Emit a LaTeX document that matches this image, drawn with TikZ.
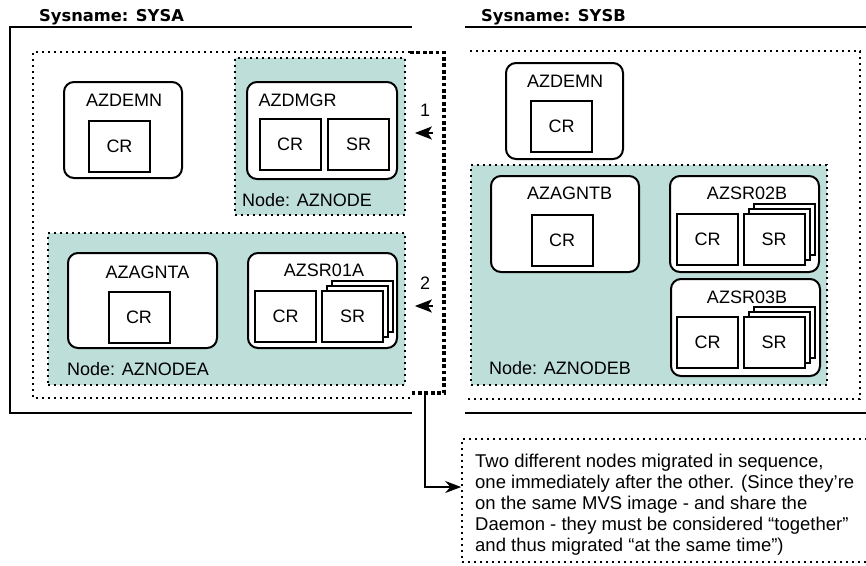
\documentclass[tikz,border=0pt]{standalone}
\usepackage{fontspec}
\setmainfont{Liberation Sans}
\newfontfamily\sysfont{DejaVu Sans}
\usetikzlibrary{positioning,arrows.meta}
\definecolor{zoneteal}{HTML}{BEDEDA}

\begin{document}
\begin{tikzpicture}[x=1pt,y=-1pt,
  every node/.style={font=\fontsize{18}{21}\selectfont},
  sysname/.style={inner sep=0pt,anchor=west,font=\sysfont\bfseries\fontsize{16.3}{19}\selectfont},
  frame/.style={line width=2pt},
  zone/.style={line width=1.7pt,dash pattern=on 1.7pt off 4.3pt},
  bracket/.style={line width=3.8pt,dash pattern=on 3.8pt off 2.6pt},
  nodezone/.style={zone,draw,fill=zoneteal,inner sep=0pt},
  region/.style={draw,line width=2pt,rounded corners=10pt,fill=white,inner sep=0pt},
  resbox/.style={draw,line width=2pt,fill=white,minimum width=61pt,minimum height=51pt,inner sep=0pt},
  mig/.style={line width=1.5pt,-{Stealth[length=17pt,width=13pt,inset=4pt]}}]
\useasboundingbox (0,0) rectangle (866,565);

% system frames
\node[sysname] (sysa) at (39,17) {Sysname: SYSA};
\node[sysname] (sysb) at (481,17) {Sysname: SYSB};
\draw[frame] (412,27) -- (10,27) -- (10,413) -- (412,413);
\draw[frame] (465,27) -- (866,27);
\draw[frame] (465,413) -- (866,413);
\draw[zone] (410,52) -- (33,52) -- (33,398) -- (410,398);
\draw[zone] (470,51) -- (860,51) -- (860,399) -- (467,399);

% nodes (teal)
\node[nodezone,minimum width=170pt,minimum height=157pt] (aznode) at (320,136.5) {};
\node[nodezone,minimum width=357pt,minimum height=152pt] (aznodea) at (226.5,309) {};
\node[nodezone,minimum width=356pt,minimum height=220pt] (aznodeb) at (649,275) {};
\node[anchor=west,inner sep=0pt] (aznodelbl) at (242,200) {Node: AZNODE};
\node[anchor=west,inner sep=0pt] (aznodealbl) at (67,369) {Node: AZNODEA};
\node[anchor=west,inner sep=0pt] (aznodeblbl) at (489,368) {Node: AZNODEB};

% SYSA regions
\node[region,minimum width=118pt,minimum height=96pt] (demna) at (123,130) {};
\node (demnalbl) at (124,100) {AZDEMN};
\node[resbox] (demnacr) at (119.5,146) {CR};

\node[region,minimum width=150pt,minimum height=97pt] (dmgr) at (322,130.5) {};
\node (dmgrlbl) at (297.5,100) {AZDMGR};
\node[resbox] (dmgrcr) at (290,144) {CR};
\node[resbox] (dmgrsr) at (358.5,144) {SR};

\node[region,minimum width=149pt,minimum height=95pt] (agnta) at (142.5,300.5) {};
\node (agntalbl) at (147.5,272) {AZAGNTA};
\node[resbox] (agntacr) at (139,317.5) {CR};

\node[region,minimum width=149pt,minimum height=95pt] (sr01a) at (322.5,300.5) {};
\node (sr01albl) at (324,270) {AZSR01A};
\node[resbox] (sr01acr) at (285.5,316.5) {CR};
\foreach \d in {10,5}
  \node[resbox] (sr01acopy\d) at (352.5+\d,316.5-\d) {};
\node[resbox] (sr01asr) at (352.5,316.5) {SR};

% SYSB regions
\node[region,minimum width=117pt,minimum height=96pt] (demnb) at (564.5,111) {};
\node (demnblbl) at (565,81) {AZDEMN};
\node[resbox] (demnbcr) at (561.5,126.5) {CR};

\node[region,minimum width=148pt,minimum height=96pt] (agntb) at (565,224) {};
\node (agntblbl) at (569.5,193) {AZAGNTB};
\node[resbox] (agntbcr) at (562,240.5) {CR};

\node[region,minimum width=149pt,minimum height=96pt] (sr02b) at (744.5,224) {};
\node (sr02blbl) at (747,193) {AZSR02B};
\node[resbox] (sr02bcr) at (707.5,239) {CR};
\foreach \d in {10,5}
  \node[resbox] (sr02bcopy\d) at (774+\d,239-\d) {};
\node[resbox] (sr02bsr) at (774,239) {SR};

\node[region,minimum width=149pt,minimum height=97pt] (sr03b) at (745.5,327.5) {};
\node (sr03blbl) at (747,297) {AZSR03B};
\node[resbox] (sr03bcr) at (707.5,342.5) {CR};
\foreach \d in {10,5}
  \node[resbox] (sr03bcopy\d) at (774+\d,342.5-\d) {};
\node[resbox] (sr03bsr) at (774,342.5) {SR};

% migration bracket and steps
\coordinate (brtop) at (410,52.5);
\coordinate (brbot) at (410,393);
\coordinate (brmid) at (425,393);
\draw[bracket] (brtop) -- (444,52.5) -- (444,393) -- (brbot);
\coordinate (mig1) at (433,133);
\coordinate (mig2) at (433,306);
\draw[mig,shorten >=9pt] (mig1) -- (mig1 -| aznode.east);
\draw[mig,shorten >=9pt] (mig2) -- (mig2 -| aznodea.east);
\node (step1) at (425,110) {1};
\node (step2) at (425,283) {2};

% note
\node[zone,draw,minimum width=408pt,minimum height=123pt,inner sep=0pt] (note) at (666,500.5) {};
\node[anchor=north west,align=left,inner sep=0pt,font=\fontsize{18.5}{21}\selectfont] (notetext) at (475,453.5)
  {Two different nodes migrated in sequence,\\
   one immediately after the other. (Since they’re\\
   on the same MVS image - and share the\\
   Daemon - they must be considered “together”\\
   and thus migrated “at the same time”)};
\draw[line width=2pt,-{Stealth[length=16pt,width=12pt]}] (brmid) |- ([yshift=13.5pt]note.west);
\end{tikzpicture}
\end{document}
